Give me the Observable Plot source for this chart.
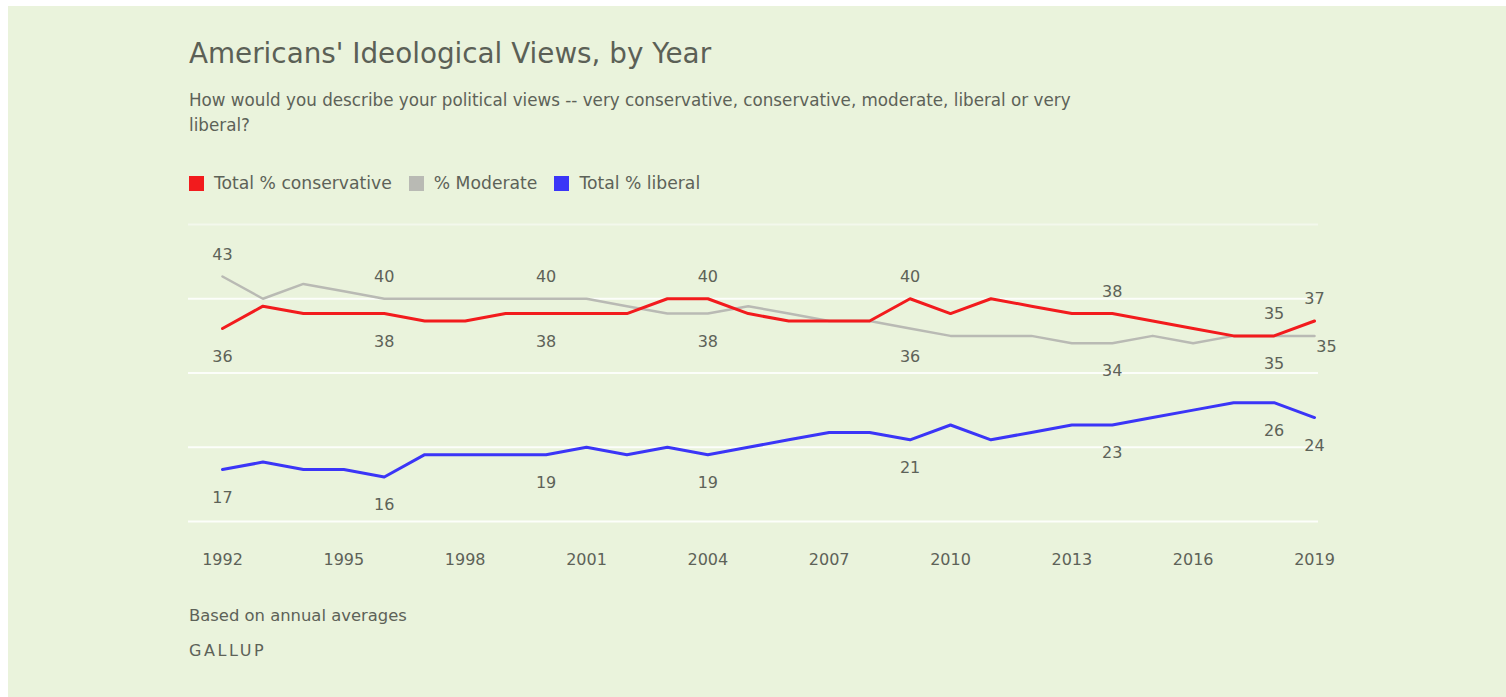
<!DOCTYPE html>
<html>
<head>
<meta charset="utf-8">
<script src="https://cdn.jsdelivr.net/npm/d3@7"></script>
<script src="https://cdn.jsdelivr.net/npm/@observablehq/plot@0.6"></script>
<style>
  html, body { margin: 0; padding: 0; }
  body {
    width: 1506px; height: 697px; overflow: hidden; position: relative;
    background: #ffffff; font-family: "DejaVu Sans", sans-serif; color: #5d6258;
  }
  #panel { position: absolute; left: 8px; top: 6px; right: 0; bottom: 0; background: #eaf3dc; }
  .abs { position: absolute; white-space: nowrap; }
  #title { left: 189px; top: 40px; font-size: 27.8px; line-height: 1; color: #5b6056; }
  #subtitle { left: 189px; top: 88px; font-size: 16.75px; line-height: 25px; }
  #legend { left: 189px; top: 174px; height: 18px; display: flex; align-items: center; font-size: 17.2px; }
  #legend .item { display: flex; align-items: center; margin-right: 17px; }
  #legend .sw { width: 15px; height: 15px; margin-right: 10px; }
  #chart { left: 0; top: 210px; }
  #note { left: 189px; top: 606px; font-size: 16.4px; line-height: 20px; }
  #source { left: 189px; top: 641px; font-size: 16px; line-height: 20px; letter-spacing: 2.6px; }
</style>
</head>
<body>
<div id="panel"></div>
<div class="abs" id="title">Americans' Ideological Views, by Year</div>
<div class="abs" id="subtitle">How would you describe your political views -- very conservative, conservative, moderate, liberal or very<br>liberal?</div>
<div class="abs" id="legend"></div>
<div class="abs" id="chart"></div>
<div class="abs" id="note">Based on annual averages</div>
<div class="abs" id="source">GALLUP</div>
<script>
// Gallup annual averages, 1992-2019 (percent)
const years = [1992, 1993, 1994, 1995, 1996, 1997, 1998, 1999, 2000, 2001, 2002, 2003, 2004, 2005,
               2006, 2007, 2008, 2009, 2010, 2011, 2012, 2013, 2014, 2015, 2016, 2017, 2018, 2019];
const conservative = [36, 39, 38, 38, 38, 37, 37, 38, 38, 38, 38, 40, 40, 38,
                      37, 37, 37, 40, 38, 40, 39, 38, 38, 37, 36, 35, 35, 37];
const moderate     = [43, 40, 42, 41, 40, 40, 40, 40, 40, 40, 39, 38, 38, 39,
                      38, 37, 37, 36, 35, 35, 35, 34, 34, 35, 34, 35, 35, 35];
const liberal      = [17, 18, 17, 17, 16, 19, 19, 19, 19, 20, 19, 20, 19, 20,
                      21, 22, 22, 21, 23, 21, 22, 23, 23, 24, 25, 26, 26, 24];

const seriesNames = ["Total % conservative", "% Moderate", "Total % liberal"];
const seriesColors = ["#f21b1d", "#b9bab4", "#3b35f7"];
const xTicks = [1992, 1995, 1998, 2001, 2004, 2007, 2010, 2013, 2016, 2019];
const yGrid = [10, 20, 30, 40, 50];
const labeledYears = [1992, 1996, 2000, 2004, 2009, 2014, 2018, 2019];

// Legend
const legend = document.getElementById("legend");
seriesNames.forEach((name, i) => {
  const item = document.createElement("div");
  item.className = "item";
  const sw = document.createElement("div");
  sw.className = "sw";
  sw.style.background = seriesColors[i];
  const label = document.createElement("span");
  label.textContent = name;
  item.append(sw, label);
  legend.append(item);
});

// Long-format rows for the line marks
const valuesBySeries = [conservative, moderate, liberal];
const rows = [];
seriesNames.forEach((s, i) => years.forEach((y, j) => rows.push({series: s, year: y, value: valuesBySeries[i][j]})));

// Value labels: of conservative/moderate, the higher sits above its line and the
// lower below; liberal is always below. At the last year the lower one sits to the right.
const lastYear = years[years.length - 1];
const labels = [];
labeledYears.forEach(yr => {
  const j = years.indexOf(yr);
  const c = conservative[j], m = moderate[j];
  const consAbove = c >= m;
  labels.push({series: seriesNames[0], year: yr, value: c, place: consAbove ? "above" : "below"});
  let modPlace = consAbove ? "below" : "above";
  if (yr === lastYear && modPlace === "below") modPlace = "right";
  labels.push({series: seriesNames[1], year: yr, value: m, place: modPlace});
  labels.push({series: seriesNames[2], year: yr, value: liberal[j], place: "below"});
});

const lineFor = (name, width) => Plot.line(rows.filter(d => d.series === name), {
  x: "year", y: "value", stroke: "series", strokeWidth: width, strokeLinejoin: "round", strokeLinecap: "round"
});

const topGrid = yGrid[yGrid.length - 1];

const chart = Plot.plot({
  width: 1506,
  height: 370,
  marginLeft: 188,
  marginRight: 188,
  insetLeft: 34,
  insetRight: 4,
  marginTop: 14,
  marginBottom: 59,
  style: {fontFamily: "DejaVu Sans, sans-serif", fontSize: "16px", color: "#5d6258", background: "transparent"},
  x: {domain: [years[0], lastYear]},
  y: {domain: [10, 50], axis: null},
  color: {domain: seriesNames, range: seriesColors},
  marks: [
    // white gridlines; the topmost one is drawn fainter
    Plot.ruleY(yGrid, {stroke: "#ffffff", strokeWidth: 2, strokeOpacity: d => d === topGrid ? 0.45 : 0.85}),
    Plot.axisX({ticks: xTicks, tickSize: 0, tickPadding: 32, tickFormat: d => String(d), label: null, fontSize: 16}),
    lineFor(seriesNames[1], 2.5),
    lineFor(seriesNames[0], 3),
    lineFor(seriesNames[2], 3),
    Plot.text(labels.filter(d => d.place === "above"), {x: "year", y: "value", text: d => String(d.value), dy: -22, fill: "#5d6258", fontSize: 16}),
    Plot.text(labels.filter(d => d.place === "below"), {x: "year", y: "value", text: d => String(d.value), dy: 28, fill: "#5d6258", fontSize: 16}),
    Plot.text(labels.filter(d => d.place === "right"), {x: "year", y: "value", text: d => String(d.value), dx: 12, dy: 11, fill: "#5d6258", fontSize: 16})
  ]
});
document.getElementById("chart").append(chart);
</script>
</body>
</html>
